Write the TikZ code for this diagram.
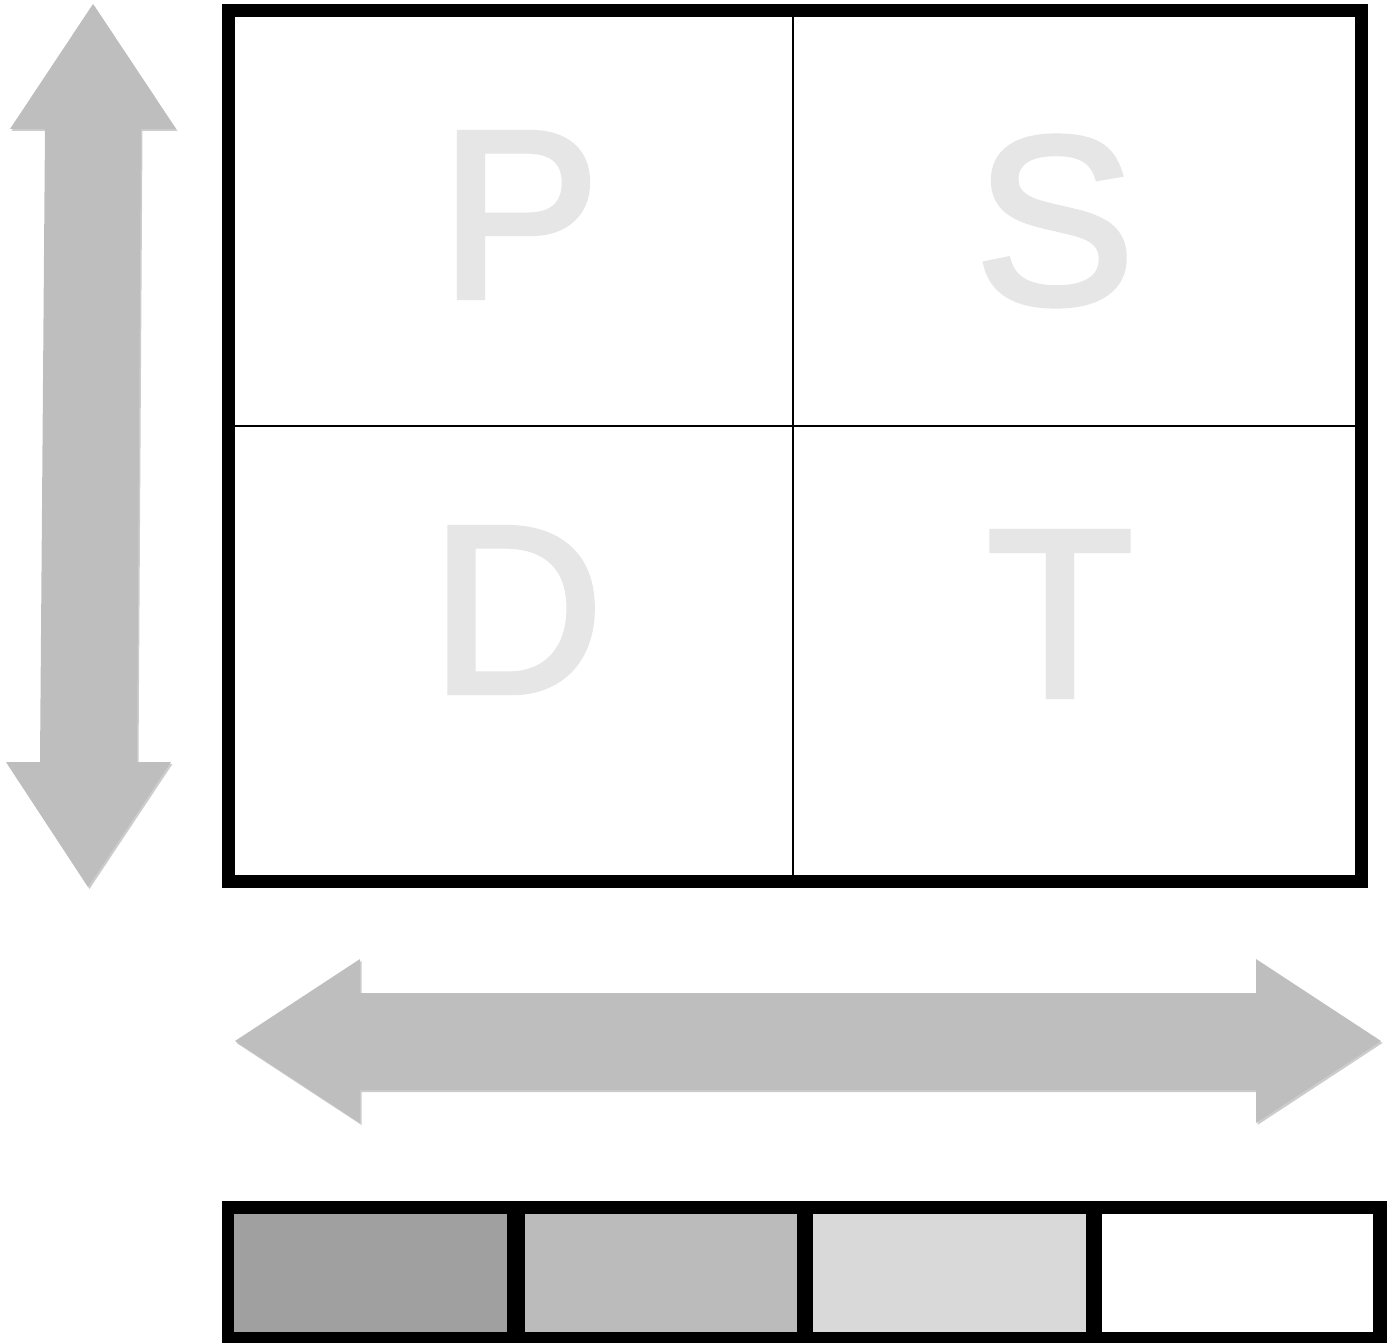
\documentclass[tikz,border=0pt]{standalone}
\usepackage{fontspec}
\setmainfont{Liberation Sans}
\newfontfamily\letterfont[FakeBold=2.5]{Liberation Sans}
\usetikzlibrary{shadows}
\definecolor{arrowgray}{HTML}{BEBEBE}
\definecolor{lettergray}{HTML}{E6E6E6}
\definecolor{cellA}{HTML}{A0A0A0}
\definecolor{cellB}{HTML}{BBBBBB}
\definecolor{cellC}{HTML}{D9D9D9}
\begin{document}
\begin{tikzpicture}[x=1pt,y=-1pt,
  arrowshape/.style={fill=arrowgray, draw=none,
    drop shadow={shadow xshift=1.5pt, shadow yshift=-2pt, opacity=0.2, fill=black}},
  letter/.style={text=lettergray, font=\letterfont\fontsize{239}{239}\selectfont, inner sep=0pt},
  frame/.style={draw=black, fill=white, line width=13pt, inner sep=0pt,
    drop shadow={shadow xshift=2pt, shadow yshift=-2pt, opacity=0.25, fill=black}},
  divider/.style={draw=black, line width=1.5pt},
  cell/.style={draw=none, inner sep=0pt, minimum height=118pt}
]
\useasboundingbox (0,0) rectangle (1397,1343);

% vertical double arrow
\path[arrowshape] (93,4) -- (176,129) -- (141,129) -- (137,762) -- (171,762)
  -- (88,887) -- (6,762) -- (40,762) -- (45,129) -- (10,129) -- cycle;

% main board
\node[frame, minimum width=1133pt, minimum height=871pt] (board) at (795,446) {};
\coordinate (vtop) at (793,17);
\coordinate (vbot) at (793,875);
\coordinate (hleft) at (235,426);
\coordinate (hright) at (1355,426);
\draw[divider] (vtop) -- (vbot);
\draw[divider] (hleft) -- (hright);

\node[letter] (P) at (520,215) {P};
\node[letter] (S) at (1055,221) {S};
\node[letter] (D) at (517,610) {D};
\node[letter] (T) at (1060,614) {T};

% horizontal double arrow
\path[arrowshape] (235,1041) -- (360,959) -- (360,993) -- (1256,993) -- (1256,959)
  -- (1381,1041) -- (1256,1123) -- (1256,1090) -- (360,1090) -- (360,1123) -- cycle;

% bottom scale bar
\node[fill=black, inner sep=0pt, minimum width=1165pt, minimum height=144pt] (bar) at (804.5,1273) {};
\node[cell, fill=cellA, minimum width=273pt] (c1) at (370.5,1273) {};
\node[cell, fill=cellB, minimum width=272pt] (c2) at (661,1273) {};
\node[cell, fill=cellC, minimum width=273pt] (c3) at (949.5,1273) {};
\node[cell, fill=white, minimum width=271pt] (c4) at (1237.5,1273) {};
\end{tikzpicture}
\end{document}
